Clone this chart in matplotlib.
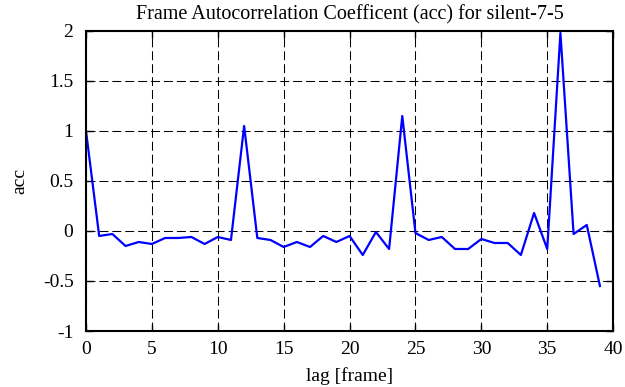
import matplotlib
matplotlib.use('Agg')
import matplotlib.pyplot as plt
import numpy as np

lags = list(range(40))
acc = [1.0, -0.05, -0.03, -0.15, -0.11, -0.13, -0.07, -0.07, -0.06, -0.13,
       -0.06, -0.09, 1.05, -0.07, -0.09, -0.16, -0.11, -0.16, -0.05, -0.11,
       -0.05, -0.24, -0.01, -0.18, 1.15, -0.02, -0.09, -0.06, -0.18, -0.18,
       -0.08, -0.12, -0.12, -0.24, 0.18, -0.18, 1.98, -0.03, 0.06, -0.55]
xticks = [0, 5, 10, 15, 20, 25, 30, 35, 40]
yticks = [-1, -0.5, 0, 0.5, 1, 1.5, 2]
ytick_labels = ['-1', '-0.5', '0', '0.5', '1', '1.5', '2']

plt.rcParams['font.family'] = ['Liberation Serif', 'DejaVu Serif']

fig = plt.figure(figsize=(6.25, 3.87), dpi=100)
ax = fig.add_axes([0.1376, 0.1447, 0.981 - 0.1376, 0.920 - 0.1447])
ax.plot(lags, acc, color='#0000ff', linewidth=1.6)
ax.set_xlim(0, 40)
ax.set_ylim(-1, 2)
ax.set_xticks(xticks)
ax.set_yticks(yticks)
ax.set_yticklabels(ytick_labels)
ax.grid(True, color='black', linestyle=(0, (8.6, 3.8)), linewidth=0.75)
ax.tick_params(direction='in', top=True, right=True, labelsize=14, length=5, width=1)
ax.tick_params(axis='x', pad=7)
ax.tick_params(axis='y', pad=9)
for s in ax.spines.values():
    s.set_linewidth(1.5)
ax.set_xlabel('lag [frame]', fontsize=14, labelpad=7)
ax.set_ylabel('acc', fontsize=14, labelpad=10)
ax.set_title('Frame Autocorrelation Coefficent (acc) for silent-7-5', fontsize=14.5, pad=8)

fig.savefig('out.png', dpi=100)
